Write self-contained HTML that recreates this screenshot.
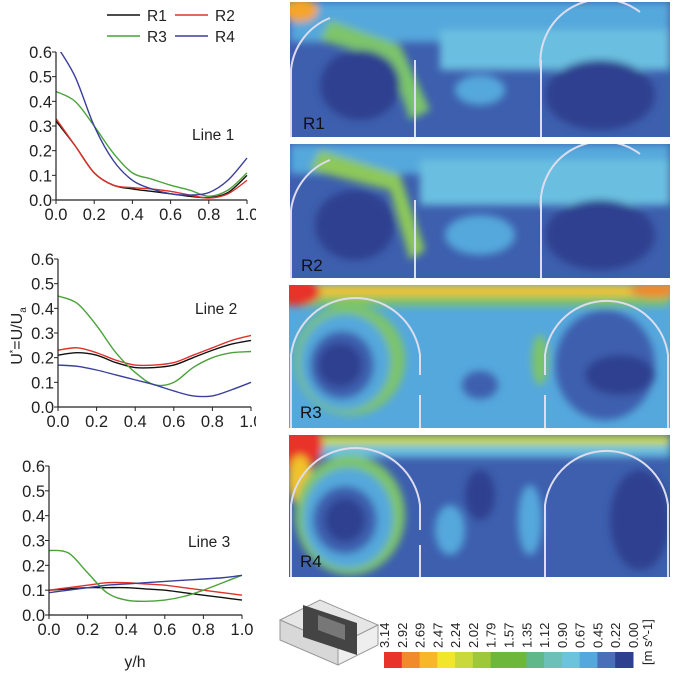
<!DOCTYPE html>
<html><head><meta charset="utf-8">
<style>
body{margin:0;background:#fff;width:685px;height:685px;overflow:hidden;font-family:"Liberation Sans",sans-serif}
svg{position:absolute;left:0;top:0}
</style></head>
<body>
<svg id="chart" width="685" height="685" viewBox="0 0 685 685">
 <defs>
  <filter id="bl" x="-20%" y="-20%" width="140%" height="140%"><feGaussianBlur stdDeviation="4"/></filter>
  <clipPath id="c1"><rect x="290" y="2" width="380" height="135"/></clipPath>
  <clipPath id="c2"><rect x="290" y="144" width="380" height="134"/></clipPath>
  <clipPath id="c3"><rect x="289" y="285" width="381" height="143"/></clipPath>
  <clipPath id="c4"><rect x="289" y="435" width="381" height="142"/></clipPath>
 </defs>
 <g id="plots"></g>
 <g id="panels">
  <!-- R1 -->
  <g clip-path="url(#c1)">
   <rect x="290" y="2" width="380" height="135" fill="#3d5fae"/>
   <g filter="url(#bl)">
    <rect x="290" y="2" width="380" height="40" fill="#55a8dc"/>
    <rect x="440" y="30" width="230" height="40" fill="#6bbfe0"/>
    <ellipse cx="300" cy="10" rx="18" ry="12" fill="#f4a52a"/>
    <polygon points="330,20 400,45 430,110 410,120 390,60 320,40" fill="#7dc46a"/>
    <ellipse cx="360" cy="85" rx="40" ry="35" fill="#2d3f8f"/>
    <ellipse cx="600" cy="95" rx="55" ry="35" fill="#2d3f8f"/>
    <ellipse cx="480" cy="90" rx="25" ry="15" fill="#55a8dc"/>
   </g>
   <g fill="none" stroke="#dde" stroke-width="2">
    <line x1="415" y1="60" x2="415" y2="137"/><line x1="541" y1="60" x2="541" y2="137"/>
    <path d="M291 137 V70 A62 62 0 0 1 330 18"/><path d="M541 60 V70 A62 62 0 0 1 640 12"/>
   </g>
  </g>
  <!-- R2 -->
  <g clip-path="url(#c2)">
   <rect x="290" y="144" width="380" height="134" fill="#3d5fae"/>
   <g filter="url(#bl)">
    <rect x="290" y="144" width="380" height="30" fill="#55a8dc"/>
    <rect x="420" y="160" width="250" height="45" fill="#6bbfe0"/>
    <polygon points="320,150 400,175 425,250 410,260 390,190 310,170" fill="#8dc85a"/>
    <ellipse cx="355" cy="225" rx="40" ry="35" fill="#2d3f8f"/>
    <ellipse cx="600" cy="235" rx="55" ry="35" fill="#2d3f8f"/>
    <ellipse cx="480" cy="235" rx="35" ry="20" fill="#55a8dc"/>
   </g>
   <g fill="none" stroke="#dde" stroke-width="2">
    <line x1="415" y1="200" x2="415" y2="278"/><line x1="541" y1="200" x2="541" y2="278"/>
    <path d="M291 278 V210 A62 62 0 0 1 330 160"/><path d="M541 200 V210 A62 62 0 0 1 640 154"/>
   </g>
  </g>
  <!-- R3 -->
  <g clip-path="url(#c3)">
   <rect x="289" y="285" width="381" height="143" fill="#55a8dc"/>
   <g filter="url(#bl)">
    <rect x="289" y="285" width="381" height="14" fill="#f2c22a"/>
    <rect x="289" y="296" width="381" height="10" fill="#7dc46a"/>
    <ellipse cx="295" cy="292" rx="25" ry="14" fill="#e8332a"/>
    <ellipse cx="655" cy="290" rx="25" ry="8" fill="#f08a2a"/>
    <ellipse cx="350" cy="360" rx="55" ry="55" fill="#7dc46a"/>
    <ellipse cx="345" cy="362" rx="45" ry="48" fill="#55a8dc"/>
    <ellipse cx="342" cy="365" rx="32" ry="34" fill="#3d5fae"/>
    <ellipse cx="340" cy="365" rx="22" ry="22" fill="#2d3f8f"/>
    <ellipse cx="480" cy="385" rx="18" ry="14" fill="#3d5fae"/>
    <ellipse cx="540" cy="360" rx="8" ry="25" fill="#7dc46a"/>
    <ellipse cx="605" cy="365" rx="50" ry="55" fill="#3d5fae"/>
    <ellipse cx="620" cy="375" rx="35" ry="20" fill="#2d3f8f"/>
   </g>
   <g fill="none" stroke="#dde" stroke-width="2">
    <path d="M291 428 V355 A65 65 0 0 1 420 355 V375"/><path d="M545 375 V355 A62 62 0 0 1 668 355 V428"/>
    <line x1="420" y1="395" x2="420" y2="428"/><line x1="545" y1="395" x2="545" y2="428"/>
   </g>
  </g>
  <!-- R4 -->
  <g clip-path="url(#c4)">
   <rect x="289" y="435" width="381" height="142" fill="#3d5fae"/>
   <g filter="url(#bl)">
    <rect x="289" y="435" width="381" height="12" fill="#c9d83a"/>
    <rect x="289" y="445" width="381" height="12" fill="#6bbfe0"/>
    <ellipse cx="298" cy="445" rx="25" ry="25" fill="#e8332a"/>
    <ellipse cx="300" cy="480" rx="12" ry="25" fill="#f2c22a"/>
    <ellipse cx="350" cy="515" rx="55" ry="60" fill="#7dc46a"/>
    <ellipse cx="348" cy="518" rx="45" ry="50" fill="#55a8dc"/>
    <ellipse cx="345" cy="520" rx="32" ry="34" fill="#3d5fae"/>
    <ellipse cx="345" cy="520" rx="20" ry="22" fill="#2d3f8f"/>
    <ellipse cx="450" cy="530" rx="15" ry="25" fill="#55a8dc"/>
    <ellipse cx="530" cy="520" rx="12" ry="35" fill="#55a8dc"/>
    <ellipse cx="480" cy="495" rx="15" ry="25" fill="#2d3f8f"/>
    <ellipse cx="640" cy="520" rx="30" ry="50" fill="#2d3f8f"/>
   </g>
   <g fill="none" stroke="#dde" stroke-width="2">
    <path d="M291 577 V505 A65 65 0 0 1 420 505 V530"/><path d="M545 577 V505 A62 62 0 0 1 668 505 V577"/>
    <line x1="420" y1="545" x2="420" y2="577"/>
   </g>
  </g>
  <g font-size="17" fill="#111">
   <text x="303" y="129">R1</text>
   <text x="301" y="271">R2</text>
   <text x="300" y="418">R3</text>
   <text x="300" y="567">R4</text>
  </g>
 </g>
 <g id="colorbar"></g>
 <g>
  <polygon points="280,620 320,600 378,625 338,645" fill="#e6e6e6" stroke="#999"/>
  <polygon points="280,620 338,645 338,665 280,640" fill="#d8d8d8" stroke="#999"/>
  <polygon points="338,645 378,625 378,645 338,665" fill="#eee" stroke="#999"/>
  <polygon points="303,605 357,623 357,655 303,637" fill="#444"/>
  <polygon points="318,615 345,625 345,640 318,630" fill="#777"/>
 </g>
</svg>
<script>
const categories=[0,0.1,0.2,0.3,0.4,0.5,0.6,0.7,0.8,0.9,1.0];
const seriesNames=["R1","R2","R3","R4"];
const seriesColors=["#111111","#e0302a","#4aa23a","#3a3f9a"];
const line1R1=[.32,.22,.11,.06,.045,.035,.025,.015,.01,.03,.10];
const line1R2=[.33,.22,.11,.06,.05,.045,.035,.02,.008,.025,.08];
const line1R3=[.44,.40,.30,.19,.11,.085,.06,.04,.015,.04,.11];
const line1R4=[.63,.50,.30,.16,.08,.045,.025,.02,.03,.08,.17];
const line2R1=[.21,.22,.21,.18,.16,.16,.17,.20,.23,.255,.27];
const line2R2=[.23,.24,.22,.19,.17,.17,.18,.21,.24,.27,.29];
const line2R3=[.45,.42,.33,.22,.14,.09,.10,.16,.20,.22,.225];
const line2R4=[.17,.165,.15,.13,.11,.09,.065,.045,.045,.07,.10];
const line3R1=[.10,.105,.11,.11,.11,.105,.10,.09,.08,.07,.06];
const line3R2=[.10,.11,.12,.13,.13,.125,.12,.11,.10,.09,.08];
const line3R3=[.26,.25,.17,.09,.06,.055,.06,.075,.10,.13,.16];
const line3R4=[.09,.10,.11,.12,.125,.13,.135,.14,.145,.15,.16];
const yTicks=[0,0.1,0.2,0.3,0.4,0.5,0.6];
const xTicks=[0,0.2,0.4,0.6,0.8,1.0];
const cbLabels=["3.14","2.92","2.69","2.47","2.24","2.02","1.79","1.57","1.35","1.12","0.90","0.67","0.45","0.22","0.00"];
const cbColors=["#e8332a","#f08a2a","#f8b62a","#f2e62a","#c9d83a","#9cc83a","#6db83a","#6db83a","#5fb88a","#6bc0b8","#6bc3dc","#55a8dc","#4a6fb8","#2d3f8f"];
const NS="http://www.w3.org/2000/svg";
const root=document.getElementById('plots');
function mk(t,a,p){const e=document.createElementNS(NS,t);for(const k in a)e.setAttribute(k,a[k]);(p||root).appendChild(e);return e;}
const panelsCfg=[
 {x0:56,x1:247,y0:200,y1:52,lab:"Line 1",lx:192,ly:140,data:[line1R1,line1R2,line1R3,line1R4]},
 {x0:58,x1:251,y0:407,y1:259,lab:"Line 2",lx:195,ly:314,data:[line2R1,line2R2,line2R3,line2R4]},
 {x0:49,x1:242,y0:615,y1:466,lab:"Line 3",lx:188,ly:547,data:[line3R1,line3R2,line3R3,line3R4]}
];
panelsCfg.forEach((c,pi)=>{
 const g=mk('g',{});
 
 
 const X=v=>c.x0+(c.x1-c.x0)*v, Y=v=>c.y0+(c.y1-c.y0)*v/0.6;
 const cp=mk('clipPath',{id:'cp'+pi},g);
 mk('rect',{x:c.x0,y:c.y1,width:c.x1-c.x0+5,height:c.y0-c.y1+5},cp);
 c.data.forEach((s,si)=>{
  const pts=categories.map((x,i)=>[X(x),Y(s[i])]);
  let d="M"+pts[0][0]+","+pts[0][1];
  for(let i=0;i<pts.length-1;i++){
   const p0=pts[Math.max(0,i-1)],p1=pts[i],p2=pts[i+1],p3=pts[Math.min(pts.length-1,i+2)];
   d+=" C"+(p1[0]+(p2[0]-p0[0])/6)+","+(p1[1]+(p2[1]-p0[1])/6)+" "+(p2[0]-(p3[0]-p1[0])/6)+","+(p2[1]-(p3[1]-p1[1])/6)+" "+p2[0]+","+p2[1];
  }
  const path=mk('path',{d:d,fill:"none",stroke:seriesColors[si],"stroke-width":1.4,"clip-path":"url(#cp"+pi+")"},g);
  
  
 });
 mk('line',{x1:c.x0,y1:c.y0,x2:c.x1,y2:c.y0,stroke:"#222","stroke-width":1.2},g);
 mk('line',{x1:c.x0,y1:c.y0,x2:c.x0,y2:c.y1,stroke:"#222","stroke-width":1.2},g);
 yTicks.forEach(t=>{
  mk('line',{x1:c.x0-4,x2:c.x0,y1:Y(t),y2:Y(t),stroke:"#222"},g);
  const tx=mk('text',{x:c.x0-4,y:Y(t)+6,"text-anchor":"end","font-size":16.5,fill:"#222"},g);
  tx.textContent=t.toFixed(1);
  
  
 });
 xTicks.forEach(t=>{
  mk('line',{x1:X(t),x2:X(t),y1:c.y0,y2:c.y0+4,stroke:"#222"},g);
  const tx=mk('text',{x:X(t),y:c.y0+20,"text-anchor":"middle","font-size":16.5,fill:"#222"},g);
  tx.textContent=t.toFixed(1);
  
  
 });
 const lt=mk('text',{x:c.lx,y:c.ly,"font-size":15.5,fill:"#222"},g);
 lt.textContent=c.lab;
 
 
});
mk('rect',{x:256,y:200,width:28,height:230,fill:"#fff"});
const lg=mk('g',{});


[[107,15,0],[175,15,1],[107,36,2],[175,36,3]].forEach(([x,y,i])=>{
 const e=mk('g',{},lg);
 
 
 mk('line',{x1:x,x2:x+33,y1:y,y2:y,stroke:seriesColors[i],"stroke-width":1.4},e);
 const t=mk('text',{x:x+40,y:y+6,"font-size":15.5,fill:"#222"},e);t.textContent=seriesNames[i];
});
const yt=mk('text',{x:0,y:0,transform:"translate(22,336) rotate(-90)","text-anchor":"middle","font-size":16,fill:"#222"});
yt.innerHTML='U<tspan dy="-6" font-size="9">*</tspan><tspan dy="6">=U/U</tspan><tspan dy="4" font-size="10">a</tspan>';


const xt=mk('text',{x:135,y:667,"text-anchor":"middle","font-size":16,fill:"#222"});
xt.textContent="y/h";


const cb=document.getElementById('colorbar');
const cbx0=384,cbx1=633,cw=(cbx1-cbx0)/cbColors.length;
cbColors.forEach((col,i)=>{
 const r=mk('rect',{x:cbx0+i*cw,y:652,width:cw+0.5,height:16,fill:col},cb);
 
 
});
cbLabels.forEach((l,i)=>{
 const x=cbx0+(cbx1-cbx0)*i/(cbLabels.length-1);
 const t=mk('text',{x:0,y:0,transform:"translate("+(x+5)+",648) rotate(-90)","font-size":13,fill:"#222"},cb);
 t.textContent=l;
 
 
});
const un=mk('text',{x:0,y:0,transform:"translate(652,665) rotate(-90)","font-size":13,fill:"#222"},cb);
un.textContent="[m s^-1]";


</script>
</body></html>
